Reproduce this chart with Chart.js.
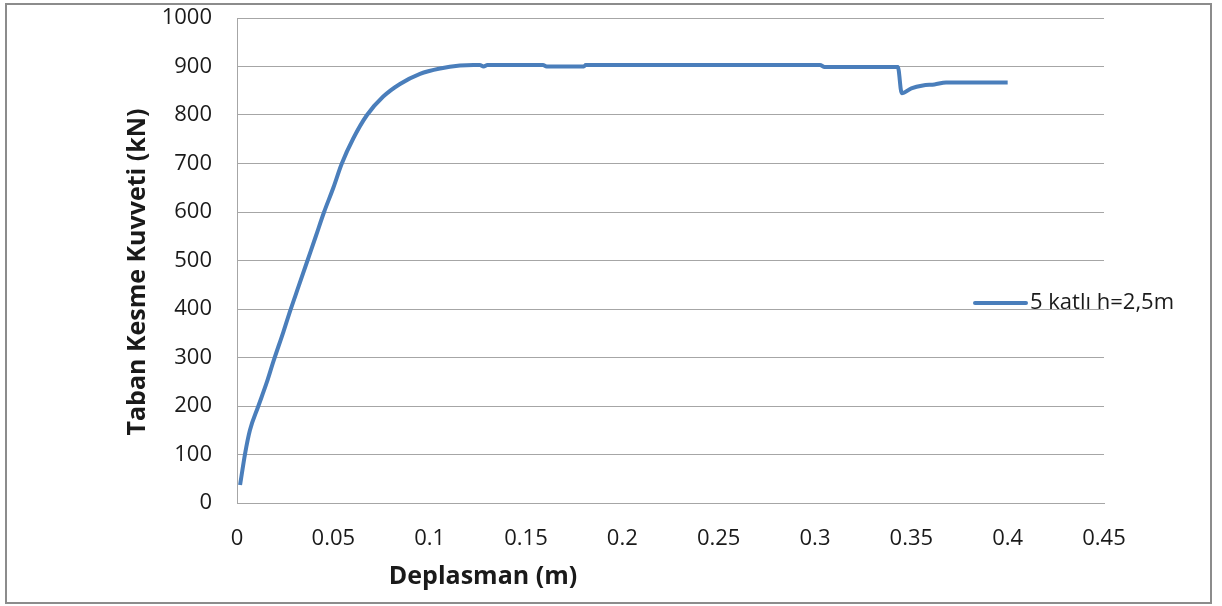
<!DOCTYPE html>
<html>
<head>
<meta charset="utf-8">
<script src="https://cdn.jsdelivr.net/npm/chart.js@4.4.0/dist/chart.umd.min.js"></script>
<style>
  html, body { margin: 0; padding: 0; background: #fff; }
  #wrap { position: relative; width: 1222px; height: 606px; }
  #frame {
    position: absolute; left: 5px; top: 3px; width: 1203px; height: 597px;
    border: 2px solid #8c8c8c; pointer-events: none;
  }
  canvas { position: absolute; left: 0; top: 0; }
</style>
</head>
<body>
<div id="wrap">
  <canvas id="shearChart" width="1222" height="606"></canvas>
  <div id="frame"></div>
</div>
<script>
// Data
const deplasman = [0.0016, 0.0042, 0.0067, 0.011, 0.0154, 0.0189, 0.024, 0.0275, 0.032, 0.0365,
  0.041, 0.0452, 0.050, 0.0543, 0.0604, 0.0673, 0.0759, 0.0846, 0.095,
  0.1054, 0.1157, 0.1227, 0.126, 0.128, 0.130, 0.1588, 0.1607, 0.180,
  0.181, 0.3026, 0.305, 0.343, 0.345, 0.350, 0.356, 0.362, 0.368, 0.400];
const kesmeKuvveti = [37, 102, 150, 199, 248, 292, 352, 395, 447, 499,
  551, 600, 650, 699, 752, 799, 838, 864, 885,
  896, 902, 903, 903, 900, 903, 903, 900, 900,
  903, 903, 899, 899, 845, 855, 861, 863, 867, 867];
const seriesName = '5 katlı h=2,5m';
const xTickLabels = ['0', '0.05', '0.1', '0.15', '0.2', '0.25', '0.3', '0.35', '0.4', '0.45'];
const yTickLabels = ['0', '100', '200', '300', '400', '500', '600', '700', '800', '900', '1000'];

const lineColor = '#4a7ebb';
const textColor = '#1a1a1a';
const gridColor = '#a6a6a6';

// Axis titles and legend drawn at fixed spots like the original sheet
const extrasPlugin = {
  id: 'extras',
  afterDraw(chart) {
    const ctx = chart.ctx;
    ctx.save();
    ctx.fillStyle = textColor;
    ctx.font = 'bold 25px "Open Sans"';
    ctx.textAlign = 'center';
    ctx.textBaseline = 'middle';
    ctx.fillText('Deplasman (m)', 483, 577);
    ctx.translate(138, 272);
    ctx.rotate(-Math.PI / 2);
    ctx.fillText('Taban Kesme Kuvveti (kN)', 0, 0);
    ctx.restore();

    // legend
    const ds = chart.data.datasets[0];
    ctx.save();
    ctx.strokeStyle = ds.borderColor;
    ctx.lineWidth = 4;
    ctx.lineCap = 'round';
    ctx.beginPath();
    ctx.moveTo(975, 303);
    ctx.lineTo(1026, 303);
    ctx.stroke();
    ctx.fillStyle = textColor;
    ctx.font = '22px "Open Sans"';
    ctx.textAlign = 'left';
    ctx.textBaseline = 'middle';
    ctx.fillText(ds.label, 1030, 303);
    ctx.restore();
  }
};

const ctx = document.getElementById('shearChart').getContext('2d');
const shearChart = new Chart(ctx, {
  type: 'line',
  data: {
    datasets: [{
      label: seriesName,
      data: deplasman.map((d, i) => ({ x: d, y: kesmeKuvveti[i] })),
      borderColor: lineColor,
      borderWidth: 4,
      pointRadius: 0,
      cubicInterpolationMode: 'monotone',
      fill: false
    }]
  },
  options: {
    responsive: false,
    animation: false,
    layout: { padding: { left: 0, top: 18, right: 118, bottom: 0 } },
    plugins: { legend: { display: false }, tooltip: { enabled: false } },
    scales: {
      x: {
        type: 'linear',
        min: 0,
        max: 0.45,
        afterFit(scale) { scale.height = 103; },
        grid: { display: false, drawTicks: false },
        border: { display: true, color: gridColor, width: 1 },
        ticks: {
          stepSize: 0.05,
          padding: 23,
          color: textColor,
          font: { family: 'Open Sans', size: 22 },
          maxRotation: 0,
          callback: (v, i) => xTickLabels[i]
        }
      },
      y: {
        min: 0,
        max: 1000,
        afterFit(scale) {
          scale.width = 237;
          scale.paddingTop = 0;
          scale.paddingBottom = 0;
        },
        grid: { color: gridColor, lineWidth: 1, drawTicks: false },
        border: { display: true, color: gridColor, width: 1 },
        ticks: {
          stepSize: 100,
          padding: 25,
          color: textColor,
          font: { family: 'Open Sans', size: 22 },
          callback: (v, i) => yTickLabels[i]
        }
      }
    }
  },
  plugins: [extrasPlugin]
});
</script>
</body>
</html>
